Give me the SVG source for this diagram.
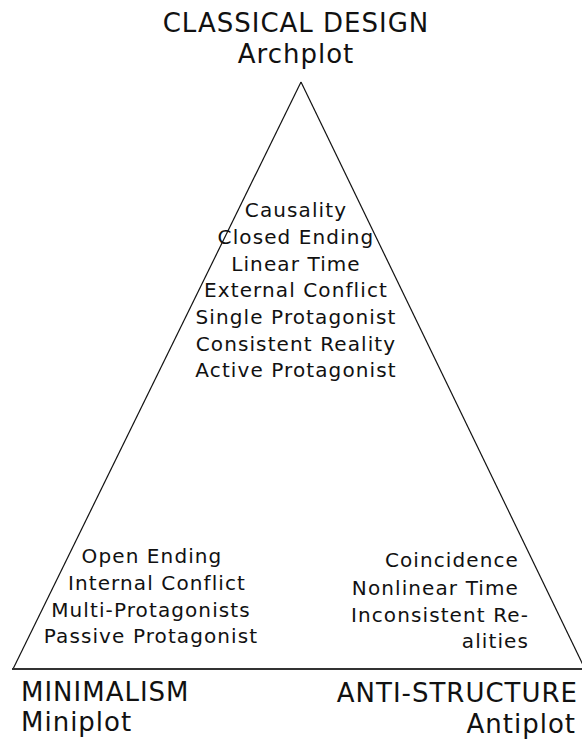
<svg xmlns="http://www.w3.org/2000/svg" width="582" height="740" viewBox="0 0 582 740">
<style>
text{font-family:"DejaVu Sans","Verdana",sans-serif;fill:#111}
.h{font-size:26px;letter-spacing:1px}
.b{font-size:20px;letter-spacing:1.1px}
.m{text-anchor:middle}
.e{text-anchor:end}
.side{stroke:#111;stroke-width:1.2;fill:none}
.base{stroke:#333;stroke-width:2;fill:none}
</style>
<rect width="582" height="740" fill="#fff"/>
<g id="connectors">
<line class="side" x1="301" y1="82" x2="13" y2="669"/>
<line class="side" x1="301" y1="82" x2="585" y2="669"/>
<line class="base" x1="12" y1="669" x2="582" y2="669"/>
</g>
<g id="archplot">
<text class="h m" x="296" y="32">CLASSICAL DESIGN</text>
<text class="h m" x="296" y="63">Archplot</text>
</g>
<g id="archplot-traits">
<text class="b m" x="296" y="217">Causality</text>
<text class="b m" x="296" y="244">Closed Ending</text>
<text class="b m" x="296" y="271">Linear Time</text>
<text class="b m" x="296" y="297">External Conflict</text>
<text class="b m" x="296" y="324">Single Protagonist</text>
<text class="b m" x="296" y="351">Consistent Reality</text>
<text class="b m" x="296" y="377">Active Protagonist</text>
</g>
<g id="miniplot-traits">
<text class="b m" x="152" y="563">Open Ending</text>
<text class="b m" x="157" y="590">Internal Conflict</text>
<text class="b m" x="151" y="617">Multi-Protagonists</text>
<text class="b m" x="151" y="643">Passive Protagonist</text>
</g>
<g id="antiplot-traits">
<text class="b e" x="519" y="567">Coincidence</text>
<text class="b e" x="519" y="595">Nonlinear Time</text>
<text class="b e" x="529" y="622">Inconsistent Re-</text>
<text class="b e" x="529" y="648">alities</text>
</g>
<g id="miniplot">
<text class="h" x="21" y="701">MINIMALISM</text>
<text class="h" x="21" y="731">Miniplot</text>
</g>
<g id="antiplot">
<text class="h e" x="578" y="702">ANTI-STRUCTURE</text>
<text class="h e" x="576" y="733">Antiplot</text>
</g>
</svg>
